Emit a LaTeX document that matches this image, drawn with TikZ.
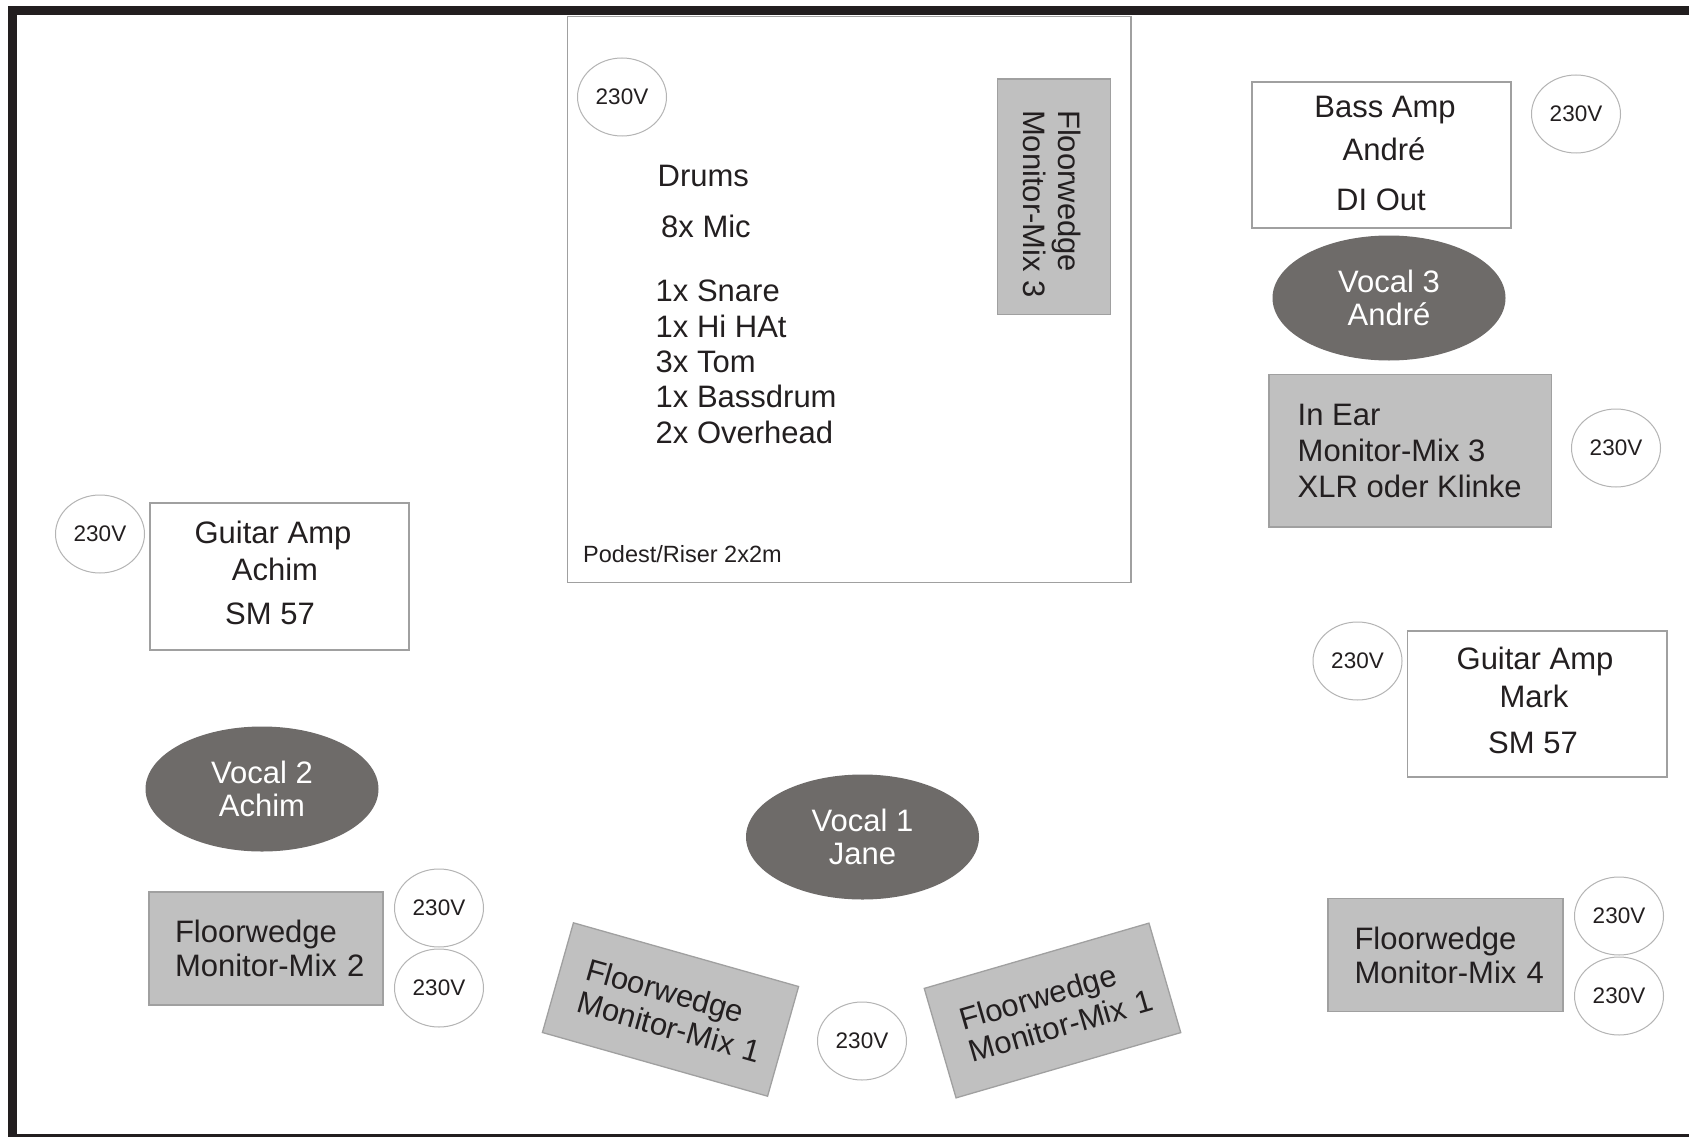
\documentclass[tikz,border=0pt]{standalone}
\usepackage{fontspec}
\setmainfont{Liberation Sans}
\usetikzlibrary{shapes.geometric}
\definecolor{framec}{HTML}{221E1F}
\definecolor{wedgec}{HTML}{C0C0C0}
\definecolor{vocalc}{HTML}{6E6B69}
\definecolor{linec}{HTML}{A0A0A0}
\definecolor{ellc}{HTML}{B4B4B4}
\definecolor{txtc}{HTML}{231F20}
\tikzset{
  bigtxt/.style={font=\fontsize{31}{35}\selectfont, text=txtc, inner sep=0pt},
  txtline/.style={bigtxt, anchor=base},
  txtleft/.style={bigtxt, anchor=base west},
  volt/.style={draw=ellc, line width=1pt, ellipse, fill=white, minimum width=89pt, minimum height=78pt, inner sep=0pt, font=\fontsize{22.5}{26}\selectfont, text=txtc},
  ampbox/.style={draw=linec, line width=1.3pt, fill=white, inner sep=0pt},
  graybox/.style={draw=linec, line width=1.3pt, fill=wedgec, inner sep=0pt},
  wedge/.style={draw=linec, line width=1.3pt, fill=wedgec, inner ysep=0pt, inner xsep=26pt, text width=182pt, align=left, minimum height=113pt, font=\fontsize{31}{34}\selectfont, text=txtc},
  vocal/.style={ellipse, fill=vocalc, minimum width=233pt, minimum height=125pt, inner sep=0pt, text=white, align=center, font=\fontsize{31}{33}\selectfont}
}
\begin{document}
\begin{tikzpicture}[x=1pt,y=-1pt]
\useasboundingbox (0,0) rectangle (1689,1137);
\fill[white] (0,0) rectangle (1689,1137);
% frame
\fill[framec] (8,6) rectangle (1689,15);
\fill[framec] (8,6) rectangle (17,1137);
\draw[framec, line width=2.2pt] (8,1135.5) -- (1689,1135.5);

% drum riser
\node[ampbox, minimum width=563.5pt, minimum height=566pt] (riser) at (849.25,299.5) {};
\node[volt] (v0) at (622,97) {230V};
\node[txtleft] (drums) at (657.5,186) {Drums};
\node[txtleft] (mic) at (661,237) {8x Mic};
\node[txtleft] (snare) at (655.5,301.5) {1x Snare};
\node[txtleft] (hihat) at (655.5,337) {1x Hi HAt};
\node[txtleft] (tom) at (655.5,372) {3x Tom};
\node[txtleft] (bass) at (655.5,407.5) {1x Bassdrum};
\node[txtleft] (over) at (655.5,443) {2x Overhead};
\node[anchor=base west, inner sep=0pt, text=txtc, font=\fontsize{23.5}{27}\selectfont] (podest) at (583,562.5) {Podest/Riser 2x2m};
\node[graybox, minimum width=113pt, minimum height=235.5pt] (fw3) at (1054,196.75) {};
\node[bigtxt, rotate=-90, align=left] (fw3t) at (1052,204) {Floorwedge\\Monitor-Mix 3};

% bass amp
\node[ampbox, minimum width=259pt, minimum height=146pt] (bassamp) at (1381.5,155) {};
\node[txtline] (ba1) at (1385,118) {Bass Amp};
\node[txtline] (ba2) at (1384,160.5) {André};
\node[txtline] (ba3) at (1381,210) {DI Out};
\node[volt] (v1) at (1576,114) {230V};

% vocal 3
\node[vocal] (voc3) at (1389,298) {Vocal 3\\André};

% in ear
\node[graybox, minimum width=282.5pt, minimum height=152.5pt] (inear) at (1410.25,450.75) {};
\node[txtleft] (ie1) at (1297.5,425.5) {In Ear};
\node[txtleft] (ie2) at (1297.5,461.5) {Monitor-Mix 3};
\node[txtleft] (ie3) at (1297.5,497) {XLR oder Klinke};
\node[volt] (v2) at (1616,448) {230V};

% guitar amp mark
\node[ampbox, minimum width=259.5pt, minimum height=146pt] (gmark) at (1537.25,704) {};
\node[txtline] (gm1) at (1535,669.5) {Guitar Amp};
\node[txtline] (gm2) at (1534,707.5) {Mark};
\node[txtline] (gm3) at (1533,753.5) {SM 57};
\node[volt] (v3) at (1357.5,661) {230V};

% floorwedge 4
\node[wedge, minimum width=235pt] (fw4) at (1445.5,955) {\mbox{Floorwedge}\\\mbox{Monitor-Mix 4}};
\node[volt] (v4) at (1619,916) {230V};
\node[volt] (v5) at (1619,996) {230V};

% guitar amp achim
\node[ampbox, minimum width=259pt, minimum height=147pt] (gachim) at (279.5,576.5) {};
\node[txtline] (ga1) at (273,543.5) {Guitar Amp};
\node[txtline] (ga2) at (275,580) {Achim};
\node[txtline] (ga3) at (270,624) {SM 57};
\node[volt] (v6) at (100,534) {230V};

% vocal 2
\node[vocal] (voc2) at (262,789) {Vocal 2\\Achim};

% floorwedge 2
\node[wedge, minimum width=234pt] (fw2) at (266,948.5) {\mbox{Floorwedge}\\\mbox{Monitor-Mix 2}};
\node[volt] (v7) at (439,908) {230V};
\node[volt] (v8) at (439,988) {230V};

% vocal 1
\node[vocal] (voc1) at (862.5,837) {Vocal 1\\Jane};

% floorwedges 1
\node[wedge, minimum width=234pt, minimum height=114pt, rotate=-15.8] (fw1a) at (670.5,1009.5) {\mbox{Floorwedge}\\\mbox{Monitor-Mix 1}};
\node[wedge, minimum width=234pt, minimum height=114pt, rotate=16.2] (fw1b) at (1052.5,1010.5) {\mbox{Floorwedge}\\\mbox{Monitor-Mix 1}};
\node[volt] (v9) at (862,1041) {230V};
\end{tikzpicture}
\end{document}
